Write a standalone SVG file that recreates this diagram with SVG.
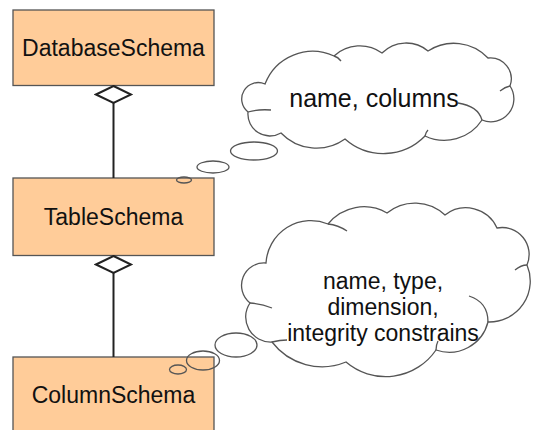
<svg xmlns="http://www.w3.org/2000/svg" width="534" height="430" viewBox="0 0 534 430">
<style>
.box{fill:#FFCC99;stroke:#555;stroke-width:1.3}
.lbl{font-family:"Liberation Sans",Arial,sans-serif;font-size:23px;fill:#111;text-anchor:middle}
.note{font-family:"Liberation Sans",Arial,sans-serif;font-size:25px;fill:#111;text-anchor:middle}
.note2{font-family:"Liberation Sans",Arial,sans-serif;font-size:23px;fill:#111;text-anchor:middle}
.cloud{fill:#fff;stroke:#555;stroke-width:1.3}
.tail{fill:none;stroke:#555;stroke-width:1.3}
.bub{fill:none;stroke:#555;stroke-width:1.3}
.conn{stroke:#222;stroke-width:2;fill:none}
</style>
<defs>
<marker id="diamond" markerUnits="userSpaceOnUse" markerWidth="20" markerHeight="40" viewBox="-1 -19 20 38" refX="0" refY="0" orient="auto">
<path d="M0,0 L8.5,-17.5 L17,0 L8.5,17.5 Z" fill="#fff" stroke="#222" stroke-width="2"/>
</marker>
</defs>
<g id="DatabaseSchema">
<rect class="box" x="13" y="10" width="201" height="75.5"/>
<text class="lbl" x="113.5" y="56">DatabaseSchema</text>
</g>
<g id="TableSchema">
<rect class="box" x="13" y="178" width="201" height="77.5"/>
<text class="lbl" x="113.5" y="225">TableSchema</text>
</g>
<g id="ColumnSchema">
<rect class="box" x="13" y="357" width="201" height="90"/>
<text class="lbl" x="113.5" y="403">ColumnSchema</text>
</g>
<g id="connectors">
<line class="conn" x1="113.5" y1="86" x2="113.5" y2="178" marker-start="url(#diamond)"/>
<line class="conn" x1="113.5" y1="256" x2="113.5" y2="357" marker-start="url(#diamond)"/>
</g>
<g id="note-table">
<path class="cloud" d="M265,84 A51,51 0 0 1 334,56 A38,38 0 0 1 382,53 A34,34 0 0 1 428,51 A47,47 0 0 1 488,58 A21,21 0 0 1 510,86 A23,23 0 0 1 482,120 A45,45 0 0 1 425,136 A58,58 0 0 1 345,139 A49,49 0 0 1 281,133 A22,22 0 0 1 248,112 A16.5,16.5 0 0 1 265,84 Z"/>
<path class="tail" d="M334,56 Q338,57 341,61 M510,86 Q505,87 500,91 M458,103 Q478,106 482,120 M425,136 Q426,132 428,130 M248,112 Q258,109 271,110"/>
<text class="note" x="374" y="107">name, columns</text>
<ellipse class="bub" cx="254" cy="151" rx="23.5" ry="9"/>
<ellipse class="bub" cx="213" cy="167" rx="16" ry="6"/>
<ellipse class="bub" cx="184" cy="180" rx="7.5" ry="3"/>
</g>
<g id="note-column">
<path class="cloud" d="M266,263 A45,45 0 0 1 328,224 A46,46 0 0 1 387,213 A44,44 0 0 1 445,215 A34,34 0 0 1 497,228 A27,27 0 0 1 527,265 A41,41 0 0 1 488,322 A40,40 0 0 1 436,350 A61,61 0 0 1 346,362 A63,63 0 0 1 272,342 A25,25 0 0 1 250,303 A22.5,22.5 0 0 1 266,263 Z"/>
<path class="tail" d="M328,224 Q338,225 347,231 M527,265 Q521,265 515,270 M469,296 Q488,302 488,322 M436,350 Q436,345 438,341 M250,303 Q262,304 272,308 M272,342 Q280,340 287,340"/>
<text class="note2" x="383" y="288.5"><tspan x="383" y="288.5">name, type,</tspan><tspan x="383" y="314.5">dimension,</tspan><tspan x="383" y="340.5">integrity constrains</tspan></text>
<ellipse class="bub" cx="236" cy="345" rx="21" ry="12"/>
<ellipse class="bub" cx="203" cy="360.5" rx="16.5" ry="9.5"/>
<ellipse class="bub" cx="178" cy="369.5" rx="8.5" ry="4.5"/>
</g>
</svg>
